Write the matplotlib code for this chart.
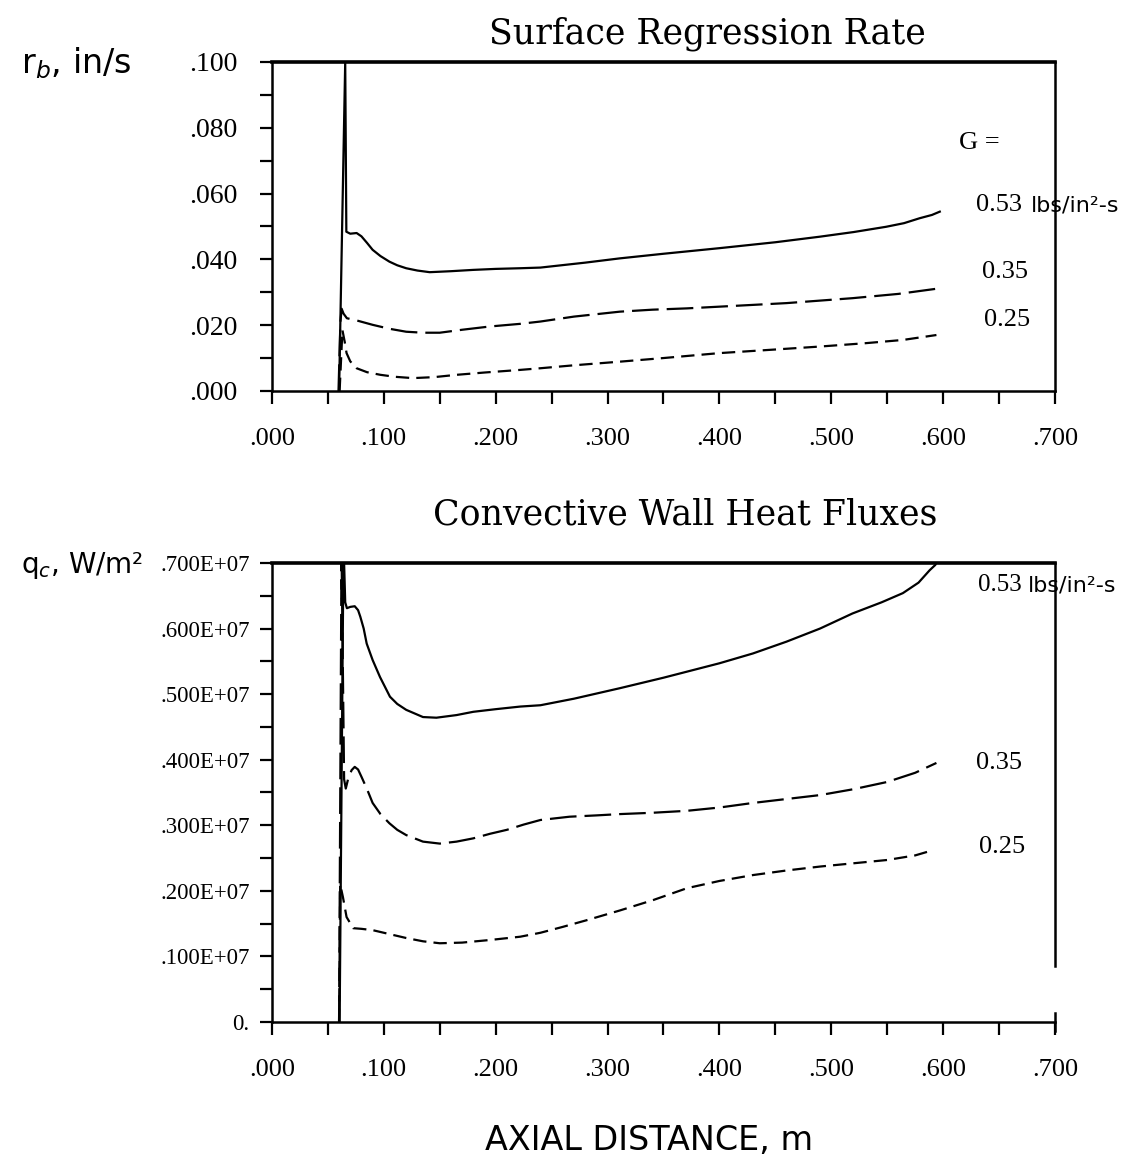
import matplotlib
matplotlib.use("Agg")
import matplotlib.pyplot as plt

# ---- data -------------------------------------------------------------
G_labels = ["0.53", "0.35", "0.25"]

# Surface regression rate r_b (in/s) vs axial distance (m)
rb_x_053 = [0.0600, 0.0655, 0.0665, 0.0700, 0.0757, 0.0800, 0.0850, 0.0900, 0.0970,
            0.1050, 0.1120, 0.1200, 0.1300, 0.1410, 0.1600, 0.1800, 0.2000, 0.2220,
            0.2400, 0.2800, 0.3110, 0.3500, 0.4000, 0.4500, 0.4900, 0.5200, 0.5490,
            0.5650, 0.5790, 0.5900, 0.5970]
rb_y_053 = [0.0000, 0.1000, 0.0484, 0.0478, 0.0480, 0.0470, 0.0450, 0.0429, 0.0410,
            0.0393, 0.0382, 0.0373, 0.0366, 0.0361, 0.0364, 0.0368, 0.0371, 0.0373,
            0.0375, 0.0390, 0.0403, 0.0417, 0.0434, 0.0452, 0.0469, 0.0483, 0.0499,
            0.0510, 0.0525, 0.0535, 0.0545]

rb_x_035 = [0.0595, 0.0612, 0.0623, 0.0640, 0.0670, 0.0750, 0.0900, 0.1050, 0.1200,
            0.1350, 0.1500, 0.1700, 0.1950, 0.2220, 0.2400, 0.2700, 0.3110, 0.3400,
            0.3710, 0.4100, 0.4600, 0.5190, 0.5600, 0.5970]
rb_y_035 = [0.0000, 0.0210, 0.0250, 0.0235, 0.0221, 0.0215, 0.0201, 0.0189, 0.0180,
            0.0177, 0.0177, 0.0186, 0.0196, 0.0204, 0.0211, 0.0226, 0.0241, 0.0247,
            0.0251, 0.0258, 0.0267, 0.0282, 0.0295, 0.0312]

rb_x_025 = [0.0605, 0.0630, 0.0650, 0.0667, 0.0700, 0.0757, 0.0850, 0.0970, 0.1100,
            0.1260, 0.1450, 0.1650, 0.1900, 0.2220, 0.2400, 0.2700, 0.3110, 0.3500,
            0.4000, 0.4500, 0.4900, 0.5300, 0.5640, 0.5940]
rb_y_025 = [0.0000, 0.0185, 0.0150, 0.0115, 0.0090, 0.0069, 0.0057, 0.0049, 0.0043,
            0.0039, 0.0042, 0.0049, 0.0056, 0.0064, 0.0069, 0.0078, 0.0089, 0.0100,
            0.0115, 0.0126, 0.0135, 0.0145, 0.0155, 0.0170]

# Convective wall heat flux q_c (W/m^2) vs axial distance (m)
qc_x_053 = [0.0605, 0.0640, 0.0655, 0.0670, 0.0700, 0.0740, 0.0770, 0.0790, 0.0820,
            0.0847, 0.0900, 0.0966, 0.1055, 0.1120, 0.1200, 0.1350, 0.1470, 0.1650,
            0.1800, 0.2000, 0.2220, 0.2400, 0.2700, 0.3110, 0.3500, 0.4000, 0.4300,
            0.4600, 0.4900, 0.5190, 0.5450, 0.5640, 0.5780, 0.5880, 0.5930, 0.5970]
qc_y_053 = [0.00e6, 7.30e6, 6.40e6, 6.31e6, 6.33e6, 6.34e6, 6.28e6, 6.18e6, 6.00e6,
            5.77e6, 5.52e6, 5.26e6, 4.96e6, 4.85e6, 4.76e6, 4.65e6, 4.64e6, 4.68e6,
            4.73e6, 4.77e6, 4.81e6, 4.83e6, 4.93e6, 5.09e6, 5.25e6, 5.47e6, 5.62e6,
            5.80e6, 6.00e6, 6.23e6, 6.40e6, 6.54e6, 6.70e6, 6.89e6, 6.97e6, 7.10e6]

qc_x_035 = [0.0600, 0.0622, 0.0645, 0.0660, 0.0680, 0.0712, 0.0740, 0.0770, 0.0800,
            0.0850, 0.0900, 0.0970, 0.1050, 0.1120, 0.1200, 0.1350, 0.1500, 0.1650,
            0.1800, 0.1950, 0.2100, 0.2250, 0.2400, 0.2660, 0.2900, 0.3110, 0.3400,
            0.3710, 0.4000, 0.4300, 0.4600, 0.4900, 0.5200, 0.5500, 0.5750, 0.5940]
qc_y_035 = [0.00e6, 7.20e6, 3.70e6, 3.56e6, 3.70e6, 3.84e6, 3.89e6, 3.85e6, 3.74e6,
            3.55e6, 3.34e6, 3.17e6, 3.03e6, 2.93e6, 2.85e6, 2.75e6, 2.72e6, 2.75e6,
            2.80e6, 2.87e6, 2.93e6, 3.01e6, 3.08e6, 3.13e6, 3.15e6, 3.17e6, 3.19e6,
            3.22e6, 3.27e6, 3.34e6, 3.40e6, 3.46e6, 3.55e6, 3.66e6, 3.80e6, 3.95e6]

qc_x_025 = [0.0600, 0.0610, 0.0635, 0.0667, 0.0726, 0.0800, 0.0900, 0.1050, 0.1200,
            0.1350, 0.1500, 0.1700, 0.1950, 0.2220, 0.2400, 0.2600, 0.2810, 0.3110,
            0.3410, 0.3710, 0.4000, 0.4300, 0.4600, 0.4900, 0.5200, 0.5500, 0.5750,
            0.5910]
qc_y_025 = [0.00e6, 2.10e6, 1.90e6, 1.60e6, 1.43e6, 1.42e6, 1.40e6, 1.34e6, 1.28e6,
            1.23e6, 1.20e6, 1.21e6, 1.25e6, 1.30e6, 1.36e6, 1.45e6, 1.55e6, 1.70e6,
            1.86e6, 2.04e6, 2.15e6, 2.24e6, 2.31e6, 2.37e6, 2.42e6, 2.47e6, 2.54e6,
            2.62e6]

x_ticks = [0.0, 0.1, 0.2, 0.3, 0.4, 0.5, 0.6, 0.7]
x_ticklabels = [".000", ".100", ".200", ".300", ".400", ".500", ".600", ".700"]
rb_ticks = [0.0, 0.02, 0.04, 0.06, 0.08, 0.10]
rb_ticklabels = [".000", ".020", ".040", ".060", ".080", ".100"]
qc_ticks = [0.0, 1e6, 2e6, 3e6, 4e6, 5e6, 6e6, 7e6]
qc_ticklabels = ["0.", ".100E+07", ".200E+07", ".300E+07", ".400E+07",
                 ".500E+07", ".600E+07", ".700E+07"]

# ---- styling ----------------------------------------------------------
SERIF = "Liberation Serif"
TITLE = "DejaVu Serif"
HAND = "DejaVu Sans"
LW = 1.6
styles = {
    "0.53": dict(linestyle="-"),
    "0.35": dict(dashes=(12, 3.6)),
    "0.25": dict(dashes=(6, 3.2)),
}

fig = plt.figure(figsize=(11.46, 11.67), dpi=100)
ax1 = fig.add_axes([0.2373, 0.6650, 0.6833, 0.2819])
ax2 = fig.add_axes([0.2373, 0.1243, 0.6833, 0.3933])


def style_axes(ax, yticks, yticklabels, ysize, ypad):
    ax.set_xlim(0.0, 0.7)
    ax.set_xticks(x_ticks)
    ax.set_xticklabels(x_ticklabels, fontfamily=SERIF, fontsize=19)
    ax.set_xticks([v + 0.05 for v in x_ticks[:-1]], minor=True)
    ax.set_yticks(yticks)
    ax.set_yticklabels(yticklabels, fontfamily=SERIF, fontsize=ysize)
    ax.set_yticks([(a + b) / 2 for a, b in zip(yticks[:-1], yticks[1:])], minor=True)
    ax.tick_params(axis="x", which="both", direction="out", length=9, width=1.6, pad=18)
    ax.tick_params(axis="y", which="both", direction="out", length=9, width=1.6, pad=ypad)
    for s in ax.spines.values():
        s.set_linewidth(1.8)
    ax.spines["top"].set_linewidth(2.6)


# ---- top panel: surface regression rate ------------------------------
style_axes(ax1, rb_ticks, rb_ticklabels, 20, 16)
ax1.set_ylim(0.0, 0.1)
for lab, xs, ys in [("0.53", rb_x_053, rb_y_053), ("0.35", rb_x_035, rb_y_035),
                    ("0.25", rb_x_025, rb_y_025)]:
    ax1.plot(xs, ys, color="black", lw=LW, **styles[lab])

ax1.text(0.6145, 0.0754, "G =", fontfamily=SERIF, fontsize=19, va="center")
t = ax1.text(0.6295, 0.0565, G_labels[0], fontfamily=SERIF, fontsize=19, va="center")
ax1.annotate("lbs/in²-s", xy=(1, 0.5), xycoords=t, xytext=(6, 0),
             textcoords="offset points", va="center", fontfamily=HAND, fontsize=16)
ax1.text(0.6345, 0.0362, G_labels[1], fontfamily=SERIF, fontsize=19, va="center")
ax1.text(0.6365, 0.0216, G_labels[2], fontfamily=SERIF, fontsize=19, va="center")

fig.text(0.617, 0.971, "Surface Regression Rate", fontfamily=TITLE, fontsize=25,
         ha="center", va="center")
fig.text(0.018, 0.946, "r$_b$, in/s", fontfamily=HAND, fontsize=24, va="center")

# ---- bottom panel: convective wall heat flux -------------------------
style_axes(ax2, qc_ticks, qc_ticklabels, 16.5, 7)
ax2.set_ylim(0.0, 7e6)
ax2.spines["right"].set_bounds(0.85e6, 7e6)
for lab, xs, ys in [("0.53", qc_x_053, qc_y_053), ("0.35", qc_x_035, qc_y_035),
                    ("0.25", qc_x_025, qc_y_025)]:
    ax2.plot(xs, ys, color="black", lw=LW, **styles[lab])
# end cap of the distance axis
ax2.plot([0.7, 0.7], [-0.02, 0.02], transform=ax2.get_xaxis_transform(),
         color="black", lw=1.8, clip_on=False)

t2 = ax2.text(0.6315, 6.66e6, G_labels[0], fontfamily=SERIF, fontsize=18, va="center")
ax2.annotate("lbs/in²-s", xy=(1, 0.5), xycoords=t2, xytext=(4, 0),
             textcoords="offset points", va="center", fontfamily=HAND, fontsize=16)
ax2.text(0.6290, 3.95e6, G_labels[1], fontfamily=SERIF, fontsize=19, va="center")
ax2.text(0.6325, 2.67e6, G_labels[2], fontfamily=SERIF, fontsize=19, va="center")

fig.text(0.598, 0.559, "Convective Wall Heat Fluxes", fontfamily=TITLE, fontsize=25,
         ha="center", va="center")
fig.text(0.018, 0.515, "q$_c$, W/m²", fontfamily=HAND, fontsize=20, va="center")

fig.text(0.566, 0.023, "AXIAL DISTANCE, m", fontfamily=HAND, fontsize=24,
         ha="center", va="center")

fig.savefig("out.png", dpi=100, facecolor="white")
